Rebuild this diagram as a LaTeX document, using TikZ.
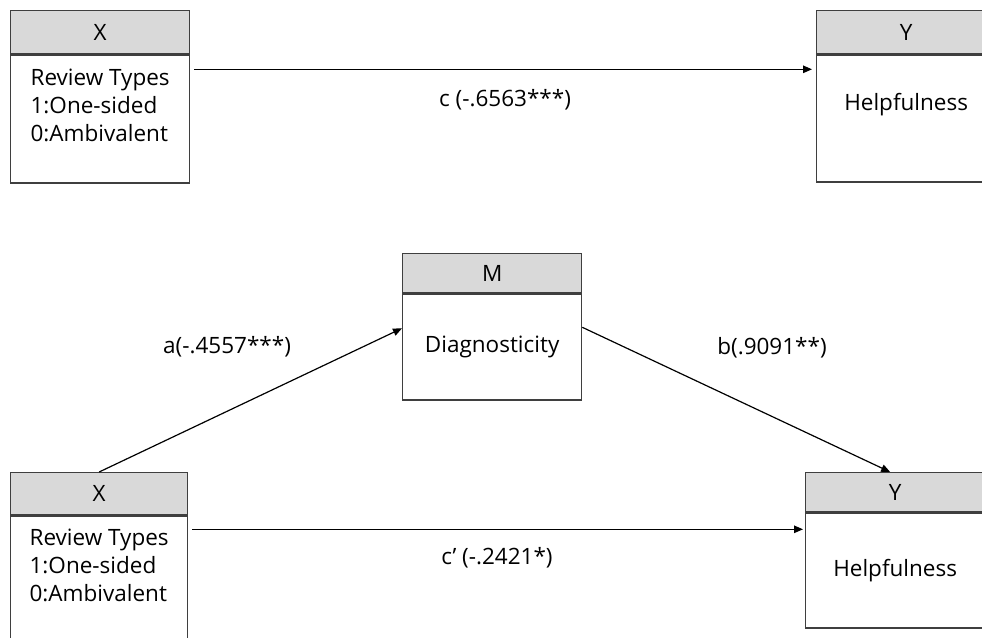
\documentclass[tikz,border=0pt]{standalone}
\usepackage{fontspec}
\setmainfont{Open Sans}
\usetikzlibrary{arrows.meta}
\definecolor{boxline}{HTML}{3F3F3F}
\definecolor{hdrfill}{HTML}{D9D9D9}
\tikzset{
  hdr/.style={draw=boxline, fill=hdrfill, line width=1.3pt, minimum width=179pt, inner sep=0pt, font=\fontsize{22.5}{28}\selectfont},
  bodybox/.style={draw=boxline, fill=white, line width=1.3pt, minimum width=179pt, inner sep=0pt},
  txt/.style={inner sep=0pt, font=\fontsize{22.5}{28}\selectfont},
  lbl/.style={inner sep=0pt, font=\fontsize{22.5}{28}\selectfont},
  arr/.style={line width=1.2pt, -{Triangle[length=9pt,width=7.5pt]}}
}
\begin{document}
\begin{tikzpicture}[x=1pt,y=-1pt]
\clip (0,0) rectangle (982,637);
\fill[white] (0,0) rectangle (982,637);
% top X
\node[hdr, minimum height=43pt, anchor=north west] (tXh) at (10,10) {X};
\node[bodybox, minimum height=128pt, anchor=north] (tXb) at (tXh.south) {};
\node[txt, align=left] (tXt) at ([yshift=-51pt]tXb.north) {Review Types\\1:One-sided\\0:Ambivalent};
% top Y
\node[hdr, minimum height=43pt, anchor=north west] (tYh) at (816,10) {Y};
\node[bodybox, minimum height=127pt, anchor=north] (tYb) at (tYh.south) {};
\node[txt] (tYt) at ([yshift=-50pt]tYb.north) {Helpfulness};
% M
\node[hdr, minimum height=39pt, anchor=north west] (mh) at (402,253) {M};
\node[bodybox, minimum height=106pt, anchor=north] (mb) at (mh.south) {};
\node[txt] (mt) at (mb.center) {Diagnosticity};
% bottom X
\node[hdr, minimum height=42pt, minimum width=177pt, anchor=north west] (bXh) at (10,472) {X};
\node[bodybox, minimum height=140pt, minimum width=177pt, anchor=north] (bXb) at (bXh.south) {};
\node[txt, align=left] (bXt) at ([yshift=-50pt]bXb.north) {Review Types\\1:One-sided\\0:Ambivalent};
% bottom Y
\node[hdr, minimum height=39pt, anchor=north west] (bYh) at (805,472) {Y};
\node[bodybox, minimum height=115pt, anchor=north] (bYb) at (bYh.south) {};
\node[txt] (bYt) at (bYb.center) {Helpfulness};
% arrows
\draw[arr, shorten >=4pt] ([xshift=4pt,yshift=-15pt]tXb.north east) -- ([yshift=-15pt]tYb.north west);
\draw[arr] (bXh.north) -- ([yshift=-35pt]mb.north west);
\draw[arr] ([yshift=-34pt]mb.north east) -- ([xshift=-5pt]bYh.north);
\draw[arr, shorten >=2pt] ([xshift=4pt,yshift=-14pt]bXb.north east) -- ([yshift=-14pt]bXb.north east -| bYb.west);
% labels
\node[lbl] (lc) at (505,100) {c (-.6563***)};
\node[lbl] (la) at (227,347) {a(-.4557***)};
\node[lbl] (lb) at (772,348) {b(.9091**)};
\node[lbl] (lcp) at (497,558) {c’ (-.2421*)};
\end{tikzpicture}
\end{document}
